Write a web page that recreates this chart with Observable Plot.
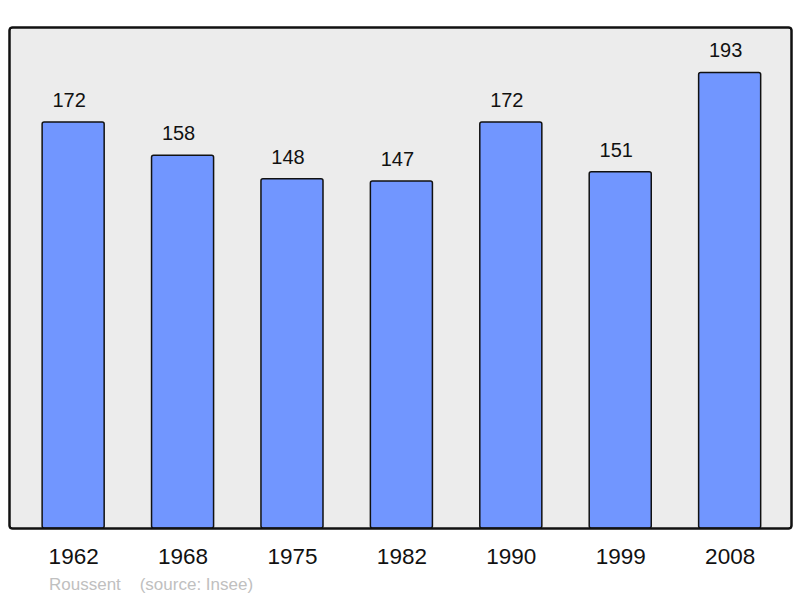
<!DOCTYPE html>
<html><head><meta charset="utf-8">
<script src="https://cdn.jsdelivr.net/npm/d3@7"></script>
<script src="https://cdn.jsdelivr.net/npm/@observablehq/plot@0.6"></script>
<style>
body{margin:0;background:#fff;font-family:"Liberation Sans",Arial,sans-serif;}
#cap{font-size:17px;color:#c0c0c0;margin:5px 0 0 49px;white-space:pre;line-height:20px;}
</style></head>
<body>
<div id="chart"></div>
<div id="cap">Roussent    (source: Insee)</div>
<script>
const years = ["1962","1968","1975","1982","1990","1999","2008"];
const population = [172,158,148,147,172,151,193];
const data = years.map((y,i)=>({year:y, pop:population[i]}));
const ymax = d3.max(population)*1.1;

const chart = Plot.plot({
  width: 800,
  height: 570,
  marginLeft: 9,
  marginRight: 9,
  marginTop: 27,
  marginBottom: 42,
  style: {fontFamily: '"Liberation Sans", Arial, sans-serif', background: "#fff", color: "#000"},
  x: {domain: years, paddingInner: 0.433, paddingOuter: 0.29, align: 0.522, round: false, label: null},
  y: {domain: [0, ymax], axis: null},
  marks: [
    Plot.frame({fill: "#ececec", stroke: "#111", strokeWidth: 2, rx: 3}),
    Plot.barY(data, {x: "year", y: "pop", fill: "#7196ff", stroke: "#111", strokeWidth: 1.5, rx: 2}),
    Plot.text(data, {x: "year", y: "pop", text: d => String(d.pop), dy: -22, dx: -4.5, fontSize: 20, fill: "#111"}),
    Plot.axisX({tickSize: 0, tickPadding: 20, fontSize: 22.5, label: null, fill: "#111"}),
    Plot.frame({stroke: "#111", strokeWidth: 2, rx: 3})
  ]
});
document.getElementById("chart").appendChild(chart);
</script>
</body></html>
